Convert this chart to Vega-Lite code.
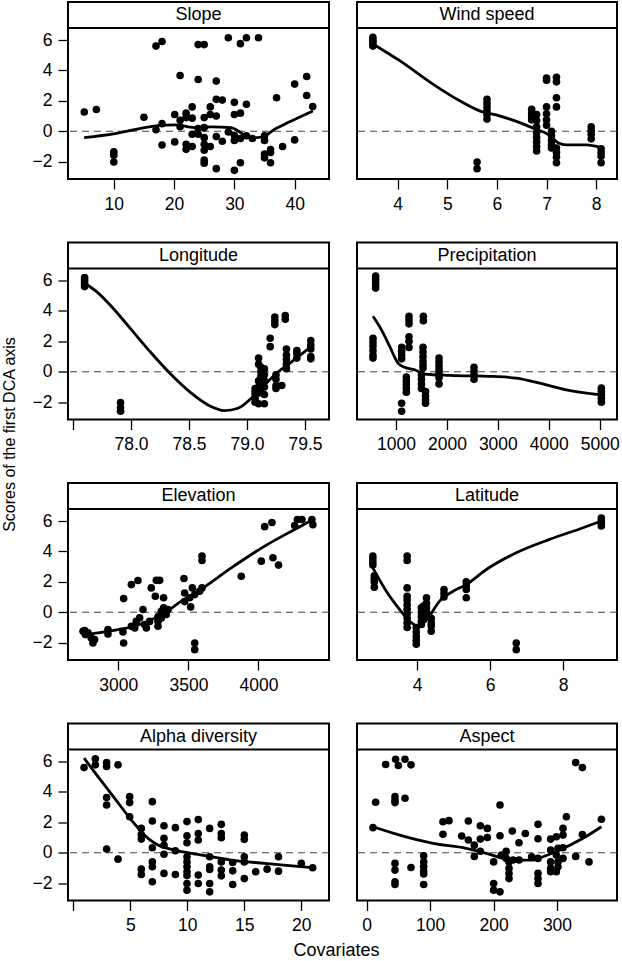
{
"$schema": "https://vega.github.io/schema/vega-lite/v6.json",
"padding": {"left": 2, "top": 1, "right": 2, "bottom": 0},
"background": "white",
"title": {"text": "Scores of the first DCA axis", "orient": "left", "anchor": "middle", "fontSize": 16, "fontWeight": "normal", "font": "Liberation Sans", "color": "black", "offset": 13, "dx": 46},
"datasets": {
"slope_p": [{"x":5.1,"y":1.27},{"x":7.1,"y":1.43},{"x":10,"y":-1.36},{"x":10,"y":-1.58},{"x":10,"y":-2.02},{"x":15,"y":0.92},{"x":17,"y":5.6},{"x":18,"y":5.9},{"x":17,"y":0.1},{"x":18,"y":0.5},{"x":18,"y":-0.9},{"x":20.1,"y":1.1},{"x":20.1,"y":-0.7},{"x":21,"y":3.67},{"x":21,"y":0.72},{"x":21,"y":0.3},{"x":22,"y":1.19},{"x":22,"y":0.9},{"x":22,"y":-0.86},{"x":22,"y":-1.19},{"x":23,"y":1.6},{"x":23,"y":0.86},{"x":23,"y":-0.2},{"x":23,"y":-1.0},{"x":24,"y":5.7},{"x":25,"y":5.7},{"x":24,"y":3.4},{"x":24,"y":0.17},{"x":24,"y":-0.2},{"x":25,"y":0.9},{"x":25,"y":0.24},{"x":25,"y":-0.42},{"x":25,"y":-0.86},{"x":25,"y":-1.25},{"x":25,"y":-1.9},{"x":25,"y":-2.1},{"x":26,"y":1.6},{"x":26,"y":1.1},{"x":26,"y":-1.0},{"x":27,"y":3.3},{"x":27,"y":1.0},{"x":27,"y":-0.35},{"x":27,"y":-2.46},{"x":27,"y":2.1},{"x":28,"y":2.05},{"x":28,"y":-0.66},{"x":29,"y":6.15},{"x":29,"y":-0.05},{"x":30,"y":1.9},{"x":30,"y":1.1},{"x":30,"y":-0.26},{"x":30,"y":-0.6},{"x":30,"y":-2.57},{"x":31,"y":5.76},{"x":32,"y":6.15},{"x":31,"y":1.19},{"x":31,"y":-0.48},{"x":31,"y":-2.07},{"x":32,"y":1.78},{"x":32,"y":-0.3},{"x":33,"y":-0.48},{"x":34,"y":6.15},{"x":35,"y":-0.3},{"x":35,"y":-0.6},{"x":35,"y":-1.5},{"x":35,"y":-1.75},{"x":36,"y":-1.2},{"x":36,"y":-1.4},{"x":36,"y":-2.07},{"x":37,"y":2.2},{"x":38,"y":-1.0},{"x":40,"y":3.1},{"x":40,"y":-0.57},{"x":42,"y":3.6},{"x":42,"y":2.35},{"x":43,"y":1.63}],
"slope_f": [{"x":5.08,"y":-0.42},{"x":10.17,"y":-0.15},{"x":15.14,"y":0.24},{"x":17.35,"y":0.37},{"x":20.11,"y":0.42},{"x":21.77,"y":0.33},{"x":23.43,"y":0.24},{"x":26.19,"y":0.29},{"x":29.5,"y":0.24},{"x":30.61,"y":0.02},{"x":31.99,"y":-0.31},{"x":33.65,"y":-0.42},{"x":35.03,"y":-0.31},{"x":36.69,"y":0.13},{"x":38.9,"y":0.57},{"x":43.04,"y":1.34}],
"wind_p": [{"x":3.5,"y":6.18},{"x":3.5,"y":6.0},{"x":3.5,"y":5.9},{"x":3.5,"y":5.75},{"x":3.5,"y":5.6},{"x":5.6,"y":-2.02},{"x":5.6,"y":-2.46},{"x":5.8,"y":2.1},{"x":5.8,"y":1.85},{"x":5.8,"y":1.6},{"x":5.8,"y":1.35},{"x":5.8,"y":1.1},{"x":5.8,"y":0.8},{"x":6.7,"y":1.45},{"x":6.7,"y":1.2},{"x":6.7,"y":0.95},{"x":6.7,"y":0.75},{"x":6.8,"y":1.1},{"x":6.8,"y":0.7},{"x":6.8,"y":0.3},{"x":6.8,"y":-0.1},{"x":6.8,"y":-0.4},{"x":6.8,"y":-0.7},{"x":6.8,"y":-1.0},{"x":6.8,"y":-1.3},{"x":7.0,"y":3.5},{"x":7.0,"y":3.35},{"x":7.0,"y":1.6},{"x":7.0,"y":1.15},{"x":7.0,"y":0.75},{"x":7.0,"y":0.4},{"x":7.1,"y":0.0},{"x":7.1,"y":-0.3},{"x":7.1,"y":-0.6},{"x":7.1,"y":-0.9},{"x":7.1,"y":-1.1},{"x":7.2,"y":3.55},{"x":7.2,"y":3.25},{"x":7.2,"y":2.2},{"x":7.2,"y":1.6},{"x":7.2,"y":-1.1},{"x":7.2,"y":-1.4},{"x":7.2,"y":-1.7},{"x":7.2,"y":-2.07},{"x":7.9,"y":0.3},{"x":7.9,"y":0.05},{"x":7.9,"y":-0.2},{"x":7.9,"y":-0.5},{"x":8.1,"y":-1.15},{"x":8.1,"y":-1.4},{"x":8.1,"y":-1.65},{"x":8.1,"y":-2.07}],
"wind_f": [{"x":3.5,"y":5.74},{"x":4.04,"y":4.64},{"x":4.71,"y":3.1},{"x":5.25,"y":2.0},{"x":5.65,"y":1.34},{"x":6.05,"y":1.01},{"x":6.46,"y":0.57},{"x":6.79,"y":0.13},{"x":7.03,"y":-0.2},{"x":7.23,"y":-0.75},{"x":7.4,"y":-0.9},{"x":7.8,"y":-0.9},{"x":8.1,"y":-1.08}],
"lon_p": [{"x":77.6,"y":6.2},{"x":77.6,"y":6.05},{"x":77.6,"y":5.9},{"x":77.6,"y":5.75},{"x":77.6,"y":5.6},{"x":77.91,"y":-2.02},{"x":77.91,"y":-2.35},{"x":77.91,"y":-2.6},{"x":79.07,"y":-1.1},{"x":79.07,"y":-1.3},{"x":79.07,"y":-1.5},{"x":79.07,"y":-1.75},{"x":79.07,"y":-2.0},{"x":79.1,"y":0.9},{"x":79.1,"y":0.5},{"x":79.1,"y":-0.6},{"x":79.1,"y":-1.0},{"x":79.1,"y":-1.4},{"x":79.1,"y":-2.1},{"x":79.12,"y":0.3},{"x":79.12,"y":0.0},{"x":79.12,"y":-0.3},{"x":79.12,"y":-0.8},{"x":79.12,"y":-1.2},{"x":79.15,"y":0.2},{"x":79.15,"y":-0.2},{"x":79.15,"y":-0.6},{"x":79.15,"y":-1.0},{"x":79.15,"y":-1.5},{"x":79.15,"y":-2.1},{"x":79.2,"y":2.2},{"x":79.2,"y":1.65},{"x":79.24,"y":3.6},{"x":79.24,"y":3.35},{"x":79.24,"y":3.1},{"x":79.25,"y":-0.2},{"x":79.25,"y":-0.5},{"x":79.25,"y":-0.9},{"x":79.25,"y":-1.1},{"x":79.3,"y":-0.9},{"x":79.33,"y":3.7},{"x":79.33,"y":3.45},{"x":79.34,"y":1.5},{"x":79.34,"y":1.1},{"x":79.34,"y":0.8},{"x":79.34,"y":0.5},{"x":79.34,"y":0.2},{"x":79.43,"y":1.4},{"x":79.43,"y":1.2},{"x":79.43,"y":0.9},{"x":79.55,"y":2.05},{"x":79.55,"y":1.75},{"x":79.55,"y":1.5},{"x":79.55,"y":1.0},{"x":79.55,"y":0.85}],
"lon_f": [{"x":77.595,"y":5.85},{"x":77.716,"y":5.19},{"x":77.83,"y":4.31},{"x":78.003,"y":2.77},{"x":78.175,"y":1.23},{"x":78.348,"y":-0.2},{"x":78.52,"y":-1.41},{"x":78.664,"y":-2.18},{"x":78.807,"y":-2.55},{"x":78.922,"y":-2.4},{"x":79.037,"y":-1.74},{"x":79.152,"y":-0.86},{"x":79.267,"y":-0.02},{"x":79.382,"y":0.64},{"x":79.555,"y":1.67}],
"pre_p": [{"x":600,"y":6.3},{"x":600,"y":6.1},{"x":600,"y":5.9},{"x":600,"y":5.7},{"x":600,"y":5.5},{"x":548,"y":2.2},{"x":548,"y":1.95},{"x":548,"y":1.7},{"x":548,"y":1.4},{"x":548,"y":1.1},{"x":548,"y":0.9},{"x":1111,"y":1.6},{"x":1111,"y":1.35},{"x":1111,"y":1.1},{"x":1111,"y":0.85},{"x":1111,"y":-2.07},{"x":1111,"y":-2.6},{"x":1203,"y":-0.35},{"x":1203,"y":-0.6},{"x":1203,"y":-0.85},{"x":1203,"y":-1.1},{"x":1203,"y":-1.35},{"x":1255,"y":3.65},{"x":1255,"y":3.4},{"x":1255,"y":3.15},{"x":1255,"y":2.3},{"x":1255,"y":2.0},{"x":1255,"y":1.6},{"x":1537,"y":3.65},{"x":1537,"y":3.35},{"x":1530,"y":1.6},{"x":1530,"y":1.3},{"x":1530,"y":1.0},{"x":1530,"y":0.7},{"x":1530,"y":0.45},{"x":1530,"y":0.25},{"x":1500,"y":-0.2},{"x":1500,"y":-0.5},{"x":1500,"y":-0.8},{"x":1500,"y":-1.1},{"x":1580,"y":-1.3},{"x":1580,"y":-1.6},{"x":1580,"y":-1.85},{"x":1580,"y":-2.07},{"x":1845,"y":0.9},{"x":1845,"y":0.65},{"x":1845,"y":0.4},{"x":1845,"y":0.15},{"x":1845,"y":-0.1},{"x":1845,"y":-0.4},{"x":1845,"y":-0.8},{"x":2532,"y":0.3},{"x":2532,"y":0.05},{"x":2532,"y":-0.2},{"x":2532,"y":-0.5},{"x":5033,"y":-1.08},{"x":5033,"y":-1.3},{"x":5033,"y":-1.5},{"x":5033,"y":-1.75},{"x":5033,"y":-2.0}],
"pre_f": [{"x":548,"y":3.65},{"x":712,"y":2.77},{"x":876,"y":1.67},{"x":1039,"y":0.57},{"x":1170,"y":0.29},{"x":1367,"y":0.13},{"x":1563,"y":-0.15},{"x":2054,"y":-0.24},{"x":2905,"y":-0.31},{"x":3363,"y":-0.42},{"x":3822,"y":-0.75},{"x":4345,"y":-1.19},{"x":5033,"y":-1.52}],
"ele_p": [{"x":2748,"y":-1.25},{"x":2765,"y":-1.47},{"x":2784,"y":-1.36},{"x":2807,"y":-1.69},{"x":2819,"y":-2.02},{"x":2831,"y":-1.8},{"x":2760,"y":-1.2},{"x":2926,"y":-1.14},{"x":2926,"y":-1.43},{"x":3033,"y":-1.3},{"x":3038,"y":-2.02},{"x":3038,"y":0.9},{"x":3093,"y":-0.92},{"x":3117,"y":-1.03},{"x":3093,"y":1.82},{"x":3140,"y":2.09},{"x":3128,"y":-0.6},{"x":3152,"y":-0.37},{"x":3176,"y":0.18},{"x":3188,"y":-0.81},{"x":3200,"y":-1.03},{"x":3223,"y":-0.6},{"x":3235,"y":1.6},{"x":3264,"y":1.05},{"x":3271,"y":2.1},{"x":3295,"y":2.1},{"x":3283,"y":-0.3},{"x":3283,"y":-0.6},{"x":3283,"y":-0.92},{"x":3307,"y":0.07},{"x":3307,"y":-0.37},{"x":3323,"y":0.95},{"x":3323,"y":0.3},{"x":3342,"y":-0.15},{"x":3354,"y":0.18},{"x":3468,"y":2.22},{"x":3473,"y":1.27},{"x":3473,"y":0.7},{"x":3509,"y":0.95},{"x":3516,"y":0.35},{"x":3528,"y":1.6},{"x":3545,"y":1.16},{"x":3545,"y":-2.02},{"x":3545,"y":-2.46},{"x":3580,"y":1.38},{"x":3597,"y":1.6},{"x":3597,"y":3.7},{"x":3597,"y":3.4},{"x":3877,"y":2.37},{"x":4020,"y":3.36},{"x":4044,"y":5.63},{"x":4096,"y":5.9},{"x":4103,"y":3.58},{"x":4143,"y":3.1},{"x":4258,"y":5.7},{"x":4277,"y":6.1},{"x":4310,"y":6.1},{"x":4381,"y":6.1},{"x":4388,"y":5.76}],
"ele_f": [{"x":2765,"y":-1.47},{"x":2855,"y":-1.36},{"x":2998,"y":-1.14},{"x":3093,"y":-0.97},{"x":3212,"y":-0.59},{"x":3330,"y":-0.04},{"x":3449,"y":0.73},{"x":3568,"y":1.38},{"x":3806,"y":2.92},{"x":4044,"y":4.35},{"x":4281,"y":5.56},{"x":4388,"y":6.1}],
"lat_p": [{"x":2.79,"y":3.7},{"x":2.79,"y":3.5},{"x":2.79,"y":3.3},{"x":2.79,"y":3.1},{"x":2.83,"y":2.4},{"x":2.83,"y":2.2},{"x":2.83,"y":2.0},{"x":2.83,"y":1.65},{"x":3.73,"y":3.7},{"x":3.73,"y":3.4},{"x":3.73,"y":1.6},{"x":3.73,"y":1.05},{"x":3.73,"y":0.8},{"x":3.73,"y":0.5},{"x":3.73,"y":0.2},{"x":3.73,"y":-0.1},{"x":3.73,"y":-0.4},{"x":3.73,"y":-0.7},{"x":3.73,"y":-1.0},{"x":3.98,"y":-1.0},{"x":3.98,"y":-1.3},{"x":3.98,"y":-1.6},{"x":3.98,"y":-1.85},{"x":3.98,"y":-2.1},{"x":4.12,"y":0.3},{"x":4.12,"y":0.0},{"x":4.12,"y":-0.3},{"x":4.12,"y":-0.6},{"x":4.12,"y":-0.8},{"x":4.18,"y":0.4},{"x":4.18,"y":0.1},{"x":4.18,"y":-0.2},{"x":4.18,"y":-0.5},{"x":4.26,"y":0.95},{"x":4.26,"y":0.6},{"x":4.26,"y":0.3},{"x":4.26,"y":0.0},{"x":4.26,"y":-0.3},{"x":4.39,"y":-0.4},{"x":4.39,"y":-0.7},{"x":4.39,"y":-0.9},{"x":4.39,"y":-1.25},{"x":4.74,"y":1.5},{"x":4.74,"y":1.25},{"x":4.74,"y":1.0},{"x":5.35,"y":2.0},{"x":5.35,"y":1.75},{"x":5.35,"y":1.5},{"x":5.35,"y":0.95},{"x":6.72,"y":-2.02},{"x":6.72,"y":-2.46},{"x":9.05,"y":6.2},{"x":9.05,"y":6.0},{"x":9.05,"y":5.85},{"x":9.05,"y":5.67}],
"lat_f": [{"x":2.79,"y":2.92},{"x":3.16,"y":1.38},{"x":3.525,"y":0.18},{"x":3.8,"y":-0.59},{"x":4.03,"y":-0.92},{"x":4.3,"y":-0.37},{"x":4.62,"y":0.73},{"x":4.99,"y":1.38},{"x":5.35,"y":1.82},{"x":5.9,"y":2.81},{"x":6.72,"y":3.91},{"x":7.63,"y":4.79},{"x":8.55,"y":5.56},{"x":9.05,"y":6.0}],
"alpha_p": [{"x":0.94,"y":5.6},{"x":1.93,"y":6.18},{"x":1.93,"y":5.78},{"x":2.92,"y":5.93},{"x":2.92,"y":5.67},{"x":3.92,"y":5.78},{"x":2.92,"y":3.63},{"x":2.92,"y":3.14},{"x":2.92,"y":0.24},{"x":3.92,"y":-0.42},{"x":4.94,"y":3.69},{"x":4.94,"y":3.3},{"x":4.94,"y":2.37},{"x":5.96,"y":1.6},{"x":5.96,"y":1.2},{"x":5.96,"y":0.9},{"x":5.96,"y":-1.08},{"x":5.96,"y":-1.43},{"x":6.93,"y":3.36},{"x":6.93,"y":2.09},{"x":6.93,"y":0.33},{"x":6.93,"y":-0.6},{"x":6.93,"y":-0.92},{"x":6.93,"y":-1.91},{"x":7.95,"y":1.78},{"x":7.95,"y":0.95},{"x":7.95,"y":0.5},{"x":7.95,"y":-0.1},{"x":7.95,"y":-1.36},{"x":8.95,"y":1.65},{"x":8.95,"y":0.13},{"x":8.95,"y":-1.43},{"x":9.97,"y":2.05},{"x":9.97,"y":1.12},{"x":9.97,"y":0.66},{"x":9.97,"y":-0.26},{"x":9.97,"y":-0.6},{"x":9.97,"y":-0.92},{"x":9.97,"y":-1.25},{"x":9.97,"y":-1.5},{"x":9.97,"y":-2.02},{"x":9.97,"y":-2.46},{"x":10.96,"y":2.18},{"x":10.96,"y":1.27},{"x":10.96,"y":0.84},{"x":10.96,"y":-1.47},{"x":10.96,"y":-2.02},{"x":11.96,"y":1.6},{"x":11.96,"y":-0.26},{"x":11.96,"y":-0.92},{"x":11.96,"y":-1.1},{"x":11.96,"y":-2.02},{"x":11.96,"y":-2.57},{"x":12.98,"y":1.87},{"x":12.98,"y":1.27},{"x":12.98,"y":0.99},{"x":12.98,"y":-0.6},{"x":12.98,"y":-1.14},{"x":12.98,"y":-1.52},{"x":13.98,"y":-0.64},{"x":13.98,"y":-1.19},{"x":13.98,"y":-2.09},{"x":15,"y":1.16},{"x":15,"y":0.88},{"x":15,"y":-0.26},{"x":15,"y":-0.6},{"x":15,"y":-1.7},{"x":16,"y":-1.25},{"x":17,"y":-1.08},{"x":18,"y":-0.26},{"x":18,"y":-1.21},{"x":20,"y":-0.7},{"x":21,"y":-0.99}],
"alpha_f": [{"x":0.94,"y":6.22},{"x":2.16,"y":5.01},{"x":3.63,"y":3.58},{"x":5.09,"y":2.15},{"x":6.55,"y":0.95},{"x":7.43,"y":0.51},{"x":8.89,"y":0.18},{"x":10.94,"y":-0.11},{"x":13.86,"y":-0.48},{"x":16.78,"y":-0.7},{"x":21,"y":-0.99}],
"asp_p": [{"x":10,"y":1.65},{"x":14.2,"y":3.32},{"x":30,"y":5.8},{"x":45.7,"y":6.15},{"x":49.9,"y":5.74},{"x":60.4,"y":6.15},{"x":69.9,"y":5.78},{"x":44.7,"y":3.69},{"x":44.7,"y":3.47},{"x":60.4,"y":3.58},{"x":44.7,"y":3.3},{"x":44.7,"y":-0.7},{"x":44.7,"y":-1.14},{"x":44.7,"y":-1.91},{"x":44.7,"y":-2.09},{"x":69.9,"y":-0.97},{"x":89.9,"y":-0.2},{"x":89.9,"y":-0.6},{"x":89.9,"y":-0.9},{"x":89.9,"y":-1.2},{"x":89.9,"y":-1.4},{"x":89.9,"y":-2.09},{"x":120.3,"y":2.04},{"x":129.8,"y":2.11},{"x":120.3,"y":1.21},{"x":149.8,"y":1.1},{"x":160.3,"y":2.09},{"x":160.3,"y":0.84},{"x":169.7,"y":0.5},{"x":169.7,"y":-0.24},{"x":179.2,"y":1.78},{"x":179.2,"y":0.9},{"x":179.2,"y":0.1},{"x":190.2,"y":1.6},{"x":190.2,"y":1.0},{"x":200.2,"y":-0.6},{"x":200.2,"y":-2.02},{"x":200.2,"y":-2.46},{"x":210.2,"y":3.14},{"x":210.2,"y":1.12},{"x":210.2,"y":-2.57},{"x":212.3,"y":-0.15},{"x":220,"y":0.1},{"x":220,"y":-0.37},{"x":224.4,"y":-0.6},{"x":224.4,"y":-1.03},{"x":224.4,"y":-1.36},{"x":224.4,"y":-1.7},{"x":229.6,"y":1.43},{"x":230.7,"y":-0.48},{"x":240.1,"y":0.66},{"x":240.1,"y":-0.48},{"x":250.1,"y":1.27},{"x":260.1,"y":-0.26},{"x":270.1,"y":1.87},{"x":270.1,"y":0.92},{"x":270.1,"y":-0.37},{"x":270.1,"y":-1.36},{"x":270.1,"y":-1.7},{"x":270.1,"y":-2.02},{"x":290,"y":0.9},{"x":290,"y":0.18},{"x":290,"y":-0.6},{"x":290,"y":-1.03},{"x":290,"y":-1.25},{"x":299,"y":1.05},{"x":299,"y":-0.15},{"x":299,"y":-1.25},{"x":301.6,"y":0.29},{"x":301.6,"y":-0.6},{"x":301.6,"y":-0.92},{"x":309.5,"y":1.6},{"x":309.5,"y":1.16},{"x":309.5,"y":0.33},{"x":309.5,"y":-0.37},{"x":314.8,"y":2.37},{"x":329.5,"y":5.93},{"x":340,"y":5.6},{"x":329.5,"y":-0.24},{"x":340,"y":1.2},{"x":350.5,"y":-0.6},{"x":370,"y":2.2}],
"asp_f": [{"x":10,"y":1.71},{"x":52,"y":1.16},{"x":104.6,"y":0.62},{"x":157,"y":0.29},{"x":188.6,"y":-0.04},{"x":214.9,"y":-0.37},{"x":241.2,"y":-0.48},{"x":262.2,"y":-0.48},{"x":278,"y":-0.26},{"x":304.3,"y":0.18},{"x":341,"y":0.95},{"x":370,"y":1.71}]
},
"vconcat": [{
"columns": 2,
"spacing": {"row": 27.5, "column": 24},
"title": {"text": "Covariates", "orient": "bottom", "anchor": "middle", "fontSize": 18, "fontWeight": "normal", "font": "Liberation Sans", "color": "black", "offset": 7, "dx": 11},
"concat": [
{"width": 261, "height": 177, "layer": [
 {"data": {"values": [{}]}, "mark": {"type": "rule", "color": "#444", "strokeDash": [7, 5], "strokeWidth": 1.2}, "encoding": {"y": {"datum": 0, "type": "quantitative", "scale": {"domain": [-3.14, 8.5], "nice": false, "zero": false}, "axis": {"values": [-2, 0, 2, 4, 6], "format": "d", "title": null}}}},
 {"data": {"name": "slope_f"}, "mark": {"type": "line", "color": "black", "strokeWidth": 2.8, "interpolate": "monotone"}, "encoding": {"x": {"field": "x", "type": "quantitative", "scale": {"domain": [2.4, 45.7], "nice": false, "zero": false}, "axis": {"values": [10, 20, 30, 40], "format": "d", "title": null}}, "y": {"field": "y", "type": "quantitative", "scale": {"domain": [-3.14, 8.5], "nice": false, "zero": false}, "axis": {"values": [-2, 0, 2, 4, 6], "format": "d", "title": null}}}},
 {"data": {"name": "slope_p"}, "mark": {"type": "circle", "color": "black", "opacity": 1, "size": 58}, "encoding": {"x": {"field": "x", "type": "quantitative", "scale": {"domain": [2.4, 45.7], "nice": false, "zero": false}, "axis": {"values": [10, 20, 30, 40], "format": "d", "title": null}}, "y": {"field": "y", "type": "quantitative", "scale": {"domain": [-3.14, 8.5], "nice": false, "zero": false}, "axis": {"values": [-2, 0, 2, 4, 6], "format": "d", "title": null}}}},
 {"data": {"values": [{}]}, "mark": {"type": "rule", "color": "black", "strokeWidth": 2}, "encoding": {"y": {"datum": 6.79, "type": "quantitative", "scale": {"domain": [-3.14, 8.5], "nice": false, "zero": false}, "axis": {"values": [-2, 0, 2, 4, 6], "format": "d", "title": null}}}},
 {"data": {"values": [{}]}, "mark": {"type": "text", "text": "Slope", "fontSize": 18, "baseline": "middle", "align": "center", "color": "black"}, "encoding": {"y": {"datum": 7.645, "type": "quantitative", "scale": {"domain": [-3.14, 8.5], "nice": false, "zero": false}, "axis": {"values": [-2, 0, 2, 4, 6], "format": "d", "title": null}}}}
]},
{"width": 260, "height": 177, "layer": [
 {"data": {"values": [{}]}, "mark": {"type": "rule", "color": "#444", "strokeDash": [7, 5], "strokeWidth": 1.2}, "encoding": {"y": {"datum": 0, "type": "quantitative", "scale": {"domain": [-3.14, 8.5], "nice": false, "zero": false}, "axis": null}}},
 {"data": {"name": "wind_f"}, "mark": {"type": "line", "color": "black", "strokeWidth": 2.8, "interpolate": "monotone"}, "encoding": {"x": {"field": "x", "type": "quantitative", "scale": {"domain": [3.18, 8.42], "nice": false, "zero": false}, "axis": {"values": [4, 5, 6, 7, 8], "format": "d", "title": null}}, "y": {"field": "y", "type": "quantitative", "scale": {"domain": [-3.14, 8.5], "nice": false, "zero": false}, "axis": null}}},
 {"data": {"name": "wind_p"}, "mark": {"type": "circle", "color": "black", "opacity": 1, "size": 58}, "encoding": {"x": {"field": "x", "type": "quantitative", "scale": {"domain": [3.18, 8.42], "nice": false, "zero": false}, "axis": {"values": [4, 5, 6, 7, 8], "format": "d", "title": null}}, "y": {"field": "y", "type": "quantitative", "scale": {"domain": [-3.14, 8.5], "nice": false, "zero": false}, "axis": null}}},
 {"data": {"values": [{}]}, "mark": {"type": "rule", "color": "black", "strokeWidth": 2}, "encoding": {"y": {"datum": 6.79, "type": "quantitative", "scale": {"domain": [-3.14, 8.5], "nice": false, "zero": false}, "axis": null}}},
 {"data": {"values": [{}]}, "mark": {"type": "text", "text": "Wind speed", "fontSize": 18, "baseline": "middle", "align": "center", "color": "black"}, "encoding": {"y": {"datum": 7.645, "type": "quantitative", "scale": {"domain": [-3.14, 8.5], "nice": false, "zero": false}, "axis": null}}}
]},
{"width": 261, "height": 177, "layer": [
 {"data": {"values": [{}]}, "mark": {"type": "rule", "color": "#444", "strokeDash": [7, 5], "strokeWidth": 1.2}, "encoding": {"y": {"datum": 0, "type": "quantitative", "scale": {"domain": [-3.14, 8.5], "nice": false, "zero": false}, "axis": {"values": [-2, 0, 2, 4, 6], "format": "d", "title": null}}}},
 {"data": {"name": "lon_f"}, "mark": {"type": "line", "color": "black", "strokeWidth": 2.8, "interpolate": "monotone"}, "encoding": {"x": {"field": "x", "type": "quantitative", "scale": {"domain": [77.457, 79.707], "nice": false, "zero": false}, "axis": {"values": [77.5, 78, 78.5, 79, 79.5], "labelExpr": "datum.value < 77.7 ? '' : format(datum.value, '.1f')", "title": null}}, "y": {"field": "y", "type": "quantitative", "scale": {"domain": [-3.14, 8.5], "nice": false, "zero": false}, "axis": {"values": [-2, 0, 2, 4, 6], "format": "d", "title": null}}}},
 {"data": {"name": "lon_p"}, "mark": {"type": "circle", "color": "black", "opacity": 1, "size": 58}, "encoding": {"x": {"field": "x", "type": "quantitative", "scale": {"domain": [77.457, 79.707], "nice": false, "zero": false}, "axis": {"values": [77.5, 78, 78.5, 79, 79.5], "labelExpr": "datum.value < 77.7 ? '' : format(datum.value, '.1f')", "title": null}}, "y": {"field": "y", "type": "quantitative", "scale": {"domain": [-3.14, 8.5], "nice": false, "zero": false}, "axis": {"values": [-2, 0, 2, 4, 6], "format": "d", "title": null}}}},
 {"data": {"values": [{}]}, "mark": {"type": "rule", "color": "black", "strokeWidth": 2}, "encoding": {"y": {"datum": 6.79, "type": "quantitative", "scale": {"domain": [-3.14, 8.5], "nice": false, "zero": false}, "axis": {"values": [-2, 0, 2, 4, 6], "format": "d", "title": null}}}},
 {"data": {"values": [{}]}, "mark": {"type": "text", "text": "Longitude", "fontSize": 18, "baseline": "middle", "align": "center", "color": "black"}, "encoding": {"y": {"datum": 7.645, "type": "quantitative", "scale": {"domain": [-3.14, 8.5], "nice": false, "zero": false}, "axis": {"values": [-2, 0, 2, 4, 6], "format": "d", "title": null}}}}
]},
{"width": 260, "height": 177, "layer": [
 {"data": {"values": [{}]}, "mark": {"type": "rule", "color": "#444", "strokeDash": [7, 5], "strokeWidth": 1.2}, "encoding": {"y": {"datum": 0, "type": "quantitative", "scale": {"domain": [-3.14, 8.5], "nice": false, "zero": false}, "axis": null}}},
 {"data": {"name": "pre_f"}, "mark": {"type": "line", "color": "black", "strokeWidth": 2.8, "interpolate": "monotone"}, "encoding": {"x": {"field": "x", "type": "quantitative", "scale": {"domain": [234, 5340], "nice": false, "zero": false}, "axis": {"values": [1000, 2000, 3000, 4000, 5000], "format": "d", "title": null}}, "y": {"field": "y", "type": "quantitative", "scale": {"domain": [-3.14, 8.5], "nice": false, "zero": false}, "axis": null}}},
 {"data": {"name": "pre_p"}, "mark": {"type": "circle", "color": "black", "opacity": 1, "size": 58}, "encoding": {"x": {"field": "x", "type": "quantitative", "scale": {"domain": [234, 5340], "nice": false, "zero": false}, "axis": {"values": [1000, 2000, 3000, 4000, 5000], "format": "d", "title": null}}, "y": {"field": "y", "type": "quantitative", "scale": {"domain": [-3.14, 8.5], "nice": false, "zero": false}, "axis": null}}},
 {"data": {"values": [{}]}, "mark": {"type": "rule", "color": "black", "strokeWidth": 2}, "encoding": {"y": {"datum": 6.79, "type": "quantitative", "scale": {"domain": [-3.14, 8.5], "nice": false, "zero": false}, "axis": null}}},
 {"data": {"values": [{}]}, "mark": {"type": "text", "text": "Precipitation", "fontSize": 18, "baseline": "middle", "align": "center", "color": "black"}, "encoding": {"y": {"datum": 7.645, "type": "quantitative", "scale": {"domain": [-3.14, 8.5], "nice": false, "zero": false}, "axis": null}}}
]},
{"width": 261, "height": 177, "layer": [
 {"data": {"values": [{}]}, "mark": {"type": "rule", "color": "#444", "strokeDash": [7, 5], "strokeWidth": 1.2}, "encoding": {"y": {"datum": 0, "type": "quantitative", "scale": {"domain": [-3.14, 8.5], "nice": false, "zero": false}, "axis": {"values": [-2, 0, 2, 4, 6], "format": "d", "title": null}}}},
 {"data": {"name": "ele_f"}, "mark": {"type": "line", "color": "black", "strokeWidth": 2.8, "interpolate": "monotone"}, "encoding": {"x": {"field": "x", "type": "quantitative", "scale": {"domain": [2641, 4503], "nice": false, "zero": false}, "axis": {"values": [3000, 3500, 4000], "format": "d", "title": null}}, "y": {"field": "y", "type": "quantitative", "scale": {"domain": [-3.14, 8.5], "nice": false, "zero": false}, "axis": {"values": [-2, 0, 2, 4, 6], "format": "d", "title": null}}}},
 {"data": {"name": "ele_p"}, "mark": {"type": "circle", "color": "black", "opacity": 1, "size": 58}, "encoding": {"x": {"field": "x", "type": "quantitative", "scale": {"domain": [2641, 4503], "nice": false, "zero": false}, "axis": {"values": [3000, 3500, 4000], "format": "d", "title": null}}, "y": {"field": "y", "type": "quantitative", "scale": {"domain": [-3.14, 8.5], "nice": false, "zero": false}, "axis": {"values": [-2, 0, 2, 4, 6], "format": "d", "title": null}}}},
 {"data": {"values": [{}]}, "mark": {"type": "rule", "color": "black", "strokeWidth": 2}, "encoding": {"y": {"datum": 6.79, "type": "quantitative", "scale": {"domain": [-3.14, 8.5], "nice": false, "zero": false}, "axis": {"values": [-2, 0, 2, 4, 6], "format": "d", "title": null}}}},
 {"data": {"values": [{}]}, "mark": {"type": "text", "text": "Elevation", "fontSize": 18, "baseline": "middle", "align": "center", "color": "black"}, "encoding": {"y": {"datum": 7.645, "type": "quantitative", "scale": {"domain": [-3.14, 8.5], "nice": false, "zero": false}, "axis": {"values": [-2, 0, 2, 4, 6], "format": "d", "title": null}}}}
]},
{"width": 260, "height": 177, "layer": [
 {"data": {"values": [{}]}, "mark": {"type": "rule", "color": "#444", "strokeDash": [7, 5], "strokeWidth": 1.2}, "encoding": {"y": {"datum": 0, "type": "quantitative", "scale": {"domain": [-3.14, 8.5], "nice": false, "zero": false}, "axis": null}}},
 {"data": {"name": "lat_f"}, "mark": {"type": "line", "color": "black", "strokeWidth": 2.8, "interpolate": "monotone"}, "encoding": {"x": {"field": "x", "type": "quantitative", "scale": {"domain": [2.356, 9.48], "nice": false, "zero": false}, "axis": {"values": [4, 6, 8], "format": "d", "title": null}}, "y": {"field": "y", "type": "quantitative", "scale": {"domain": [-3.14, 8.5], "nice": false, "zero": false}, "axis": null}}},
 {"data": {"name": "lat_p"}, "mark": {"type": "circle", "color": "black", "opacity": 1, "size": 58}, "encoding": {"x": {"field": "x", "type": "quantitative", "scale": {"domain": [2.356, 9.48], "nice": false, "zero": false}, "axis": {"values": [4, 6, 8], "format": "d", "title": null}}, "y": {"field": "y", "type": "quantitative", "scale": {"domain": [-3.14, 8.5], "nice": false, "zero": false}, "axis": null}}},
 {"data": {"values": [{}]}, "mark": {"type": "rule", "color": "black", "strokeWidth": 2}, "encoding": {"y": {"datum": 6.79, "type": "quantitative", "scale": {"domain": [-3.14, 8.5], "nice": false, "zero": false}, "axis": null}}},
 {"data": {"values": [{}]}, "mark": {"type": "text", "text": "Latitude", "fontSize": 18, "baseline": "middle", "align": "center", "color": "black"}, "encoding": {"y": {"datum": 7.645, "type": "quantitative", "scale": {"domain": [-3.14, 8.5], "nice": false, "zero": false}, "axis": null}}}
]},
{"width": 261, "height": 177, "layer": [
 {"data": {"values": [{}]}, "mark": {"type": "rule", "color": "#444", "strokeDash": [7, 5], "strokeWidth": 1.2}, "encoding": {"y": {"datum": 0, "type": "quantitative", "scale": {"domain": [-3.14, 8.5], "nice": false, "zero": false}, "axis": {"values": [-2, 0, 2, 4, 6], "format": "d", "title": null}}}},
 {"data": {"name": "alpha_f"}, "mark": {"type": "line", "color": "black", "strokeWidth": 2.8, "interpolate": "monotone"}, "encoding": {"x": {"field": "x", "type": "quantitative", "scale": {"domain": [-0.47, 22.43], "nice": false, "zero": false}, "axis": {"values": [0, 5, 10, 15, 20], "labelExpr": "datum.value < 1 ? '' : format(datum.value, 'd')", "title": null}}, "y": {"field": "y", "type": "quantitative", "scale": {"domain": [-3.14, 8.5], "nice": false, "zero": false}, "axis": {"values": [-2, 0, 2, 4, 6], "format": "d", "title": null}}}},
 {"data": {"name": "alpha_p"}, "mark": {"type": "circle", "color": "black", "opacity": 1, "size": 58}, "encoding": {"x": {"field": "x", "type": "quantitative", "scale": {"domain": [-0.47, 22.43], "nice": false, "zero": false}, "axis": {"values": [0, 5, 10, 15, 20], "labelExpr": "datum.value < 1 ? '' : format(datum.value, 'd')", "title": null}}, "y": {"field": "y", "type": "quantitative", "scale": {"domain": [-3.14, 8.5], "nice": false, "zero": false}, "axis": {"values": [-2, 0, 2, 4, 6], "format": "d", "title": null}}}},
 {"data": {"values": [{}]}, "mark": {"type": "rule", "color": "black", "strokeWidth": 2}, "encoding": {"y": {"datum": 6.79, "type": "quantitative", "scale": {"domain": [-3.14, 8.5], "nice": false, "zero": false}, "axis": {"values": [-2, 0, 2, 4, 6], "format": "d", "title": null}}}},
 {"data": {"values": [{}]}, "mark": {"type": "text", "text": "Alpha diversity", "fontSize": 18, "baseline": "middle", "align": "center", "color": "black"}, "encoding": {"y": {"datum": 7.645, "type": "quantitative", "scale": {"domain": [-3.14, 8.5], "nice": false, "zero": false}, "axis": {"values": [-2, 0, 2, 4, 6], "format": "d", "title": null}}}}
]},
{"width": 260, "height": 177, "layer": [
 {"data": {"values": [{}]}, "mark": {"type": "rule", "color": "#444", "strokeDash": [7, 5], "strokeWidth": 1.2}, "encoding": {"y": {"datum": 0, "type": "quantitative", "scale": {"domain": [-3.14, 8.5], "nice": false, "zero": false}, "axis": null}}},
 {"data": {"name": "asp_f"}, "mark": {"type": "line", "color": "black", "strokeWidth": 2.8, "interpolate": "monotone"}, "encoding": {"x": {"field": "x", "type": "quantitative", "scale": {"domain": [-15.2, 394.6], "nice": false, "zero": false}, "axis": {"values": [0, 100, 200, 300], "format": "d", "title": null}}, "y": {"field": "y", "type": "quantitative", "scale": {"domain": [-3.14, 8.5], "nice": false, "zero": false}, "axis": null}}},
 {"data": {"name": "asp_p"}, "mark": {"type": "circle", "color": "black", "opacity": 1, "size": 58}, "encoding": {"x": {"field": "x", "type": "quantitative", "scale": {"domain": [-15.2, 394.6], "nice": false, "zero": false}, "axis": {"values": [0, 100, 200, 300], "format": "d", "title": null}}, "y": {"field": "y", "type": "quantitative", "scale": {"domain": [-3.14, 8.5], "nice": false, "zero": false}, "axis": null}}},
 {"data": {"values": [{}]}, "mark": {"type": "rule", "color": "black", "strokeWidth": 2}, "encoding": {"y": {"datum": 6.79, "type": "quantitative", "scale": {"domain": [-3.14, 8.5], "nice": false, "zero": false}, "axis": null}}},
 {"data": {"values": [{}]}, "mark": {"type": "text", "text": "Aspect", "fontSize": 18, "baseline": "middle", "align": "center", "color": "black"}, "encoding": {"y": {"datum": 7.645, "type": "quantitative", "scale": {"domain": [-3.14, 8.5], "nice": false, "zero": false}, "axis": null}}}
]}
]
}],
"config": {
 "font": "Liberation Sans",
 "view": {"stroke": "black", "strokeWidth": 2},
 "axis": {"domain": false, "grid": false, "ticks": true, "tickSize": 10, "tickColor": "black", "tickWidth": 1.3, "labelColor": "black", "labelFontSize": 17.5, "labelFont": "Liberation Sans", "labelFlush": false, "labelOverlap": false},
 "axisX": {"labelPadding": 6, "labelFontSize": 17.5},
 "axisY": {"labelPadding": 6, "labelFontSize": 17.5}
}
}
